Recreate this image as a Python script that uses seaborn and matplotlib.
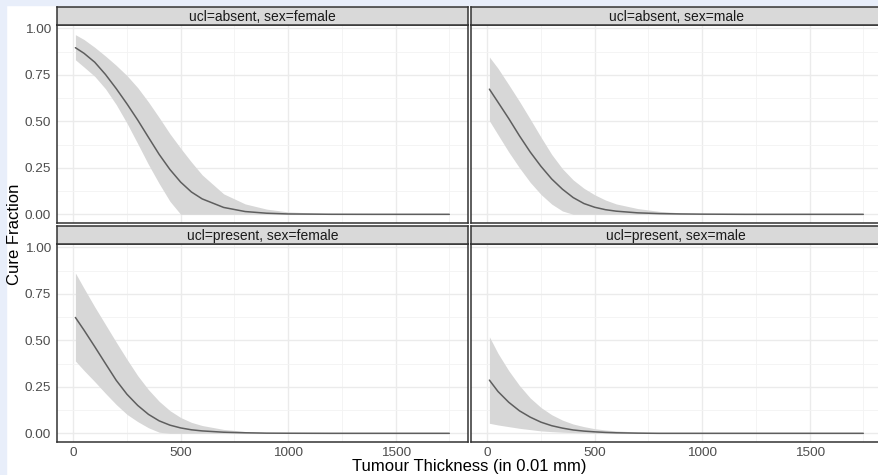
import numpy as np
import pandas as pd
import seaborn as sns
import matplotlib
matplotlib.use("Agg")
import matplotlib.pyplot as plt

# values
thickness = [10, 50, 100, 150, 200, 250, 300, 350, 400, 450, 500, 550, 600,
             700, 800, 900, 1000, 1200, 1400, 1600, 1750]

fit_absent_female = [0.896, 0.866, 0.818, 0.752, 0.676, 0.594, 0.507, 0.414, 0.322, 0.241, 0.173,
                     0.12, 0.083, 0.037, 0.015, 0.006, 0.002, 0.0003, 0, 0, 0]
upper_absent_female = [0.966, 0.94, 0.898, 0.851, 0.801, 0.746, 0.681, 0.604, 0.52, 0.433, 0.355,
                       0.281, 0.212, 0.11, 0.056, 0.028, 0.013, 0.003, 0.001, 0, 0]
lower_absent_female = [0.831, 0.792, 0.742, 0.675, 0.59, 0.49, 0.38, 0.268, 0.165, 0.07, 0,
                       0, 0, 0, 0, 0, 0, 0, 0, 0, 0]

fit_absent_male = [0.673, 0.603, 0.515, 0.422, 0.335, 0.258, 0.19, 0.135, 0.09, 0.058, 0.038,
                   0.025, 0.017, 0.008, 0.004, 0.002, 0.001, 0, 0, 0, 0]
upper_absent_male = [0.846, 0.785, 0.697, 0.607, 0.512, 0.415, 0.322, 0.245, 0.185, 0.14, 0.105,
                     0.077, 0.056, 0.031, 0.016, 0.008, 0.004, 0.001, 0, 0, 0]
lower_absent_male = [0.503, 0.428, 0.335, 0.25, 0.172, 0.107, 0.055, 0.018, 0, 0, 0,
                     0, 0, 0, 0, 0, 0, 0, 0, 0, 0]

fit_present_female = [0.623, 0.555, 0.466, 0.375, 0.285, 0.21, 0.15, 0.102, 0.067, 0.044, 0.029,
                      0.019, 0.013, 0.006, 0.003, 0.001, 0.0005, 0, 0, 0, 0]
upper_present_female = [0.862, 0.78, 0.68, 0.585, 0.49, 0.398, 0.31, 0.235, 0.172, 0.122, 0.085,
                        0.059, 0.042, 0.021, 0.01, 0.004, 0.002, 0, 0, 0, 0]
lower_present_female = [0.389, 0.338, 0.278, 0.215, 0.155, 0.102, 0.063, 0.03, 0.006, 0, 0,
                        0, 0, 0, 0, 0, 0, 0, 0, 0, 0]

fit_present_male = [0.286, 0.225, 0.167, 0.121, 0.087, 0.06, 0.041, 0.028, 0.018, 0.012, 0.008,
                    0.005, 0.003, 0.001, 0, 0, 0, 0, 0, 0, 0]
upper_present_male = [0.519, 0.43, 0.337, 0.257, 0.19, 0.139, 0.1, 0.071, 0.05, 0.036, 0.025,
                      0.018, 0.013, 0.007, 0.003, 0.001, 0, 0, 0, 0, 0]
lower_present_male = [0.054, 0.045, 0.036, 0.027, 0.02, 0.013, 0.009, 0.006, 0.004, 0.002, 0.001,
                      0, 0, 0, 0, 0, 0, 0, 0, 0, 0]

ucl_levels = ["absent", "present"]
sex_levels = ["female", "male"]

series = {
    ("absent", "female"): (fit_absent_female, lower_absent_female, upper_absent_female),
    ("absent", "male"): (fit_absent_male, lower_absent_male, upper_absent_male),
    ("present", "female"): (fit_present_female, lower_present_female, upper_present_female),
    ("present", "male"): (fit_present_male, lower_present_male, upper_present_male),
}

frames = []
for (ucl, sex), (fit, lo, up) in series.items():
    frames.append(pd.DataFrame({"thickness": thickness, "fit": fit, "lower": lo,
                                "upper": up, "ucl": ucl, "sex": sex}))
df = pd.concat(frames, ignore_index=True)

sns.set_theme(style="white")
plt.rcParams["font.family"] = ["Liberation Sans", "DejaVu Sans"]

W, H = 879, 475
g = sns.FacetGrid(df, row="ucl", col="sex", row_order=ucl_levels, col_order=sex_levels,
                  sharex=True, sharey=True, despine=False)
g.figure.set_size_inches(W / 100, H / 100)
g.figure.set_dpi(100)


def draw(data, **kws):
    ax = plt.gca()
    ax.fill_between(data["thickness"], data["lower"], data["upper"],
                    color="#D7D7D7", lw=0, zorder=2)
    sns.lineplot(data=data, x="thickness", y="fit", ax=ax, color="#5E5E5E",
                 lw=1.1, zorder=3, estimator=None)


g.map_dataframe(draw)
g.set_titles("")
g.set_axis_labels("", "")

fig = g.figure
fig.patch.set_facecolor("white")

# light blue slide margin at left and top
fig.patches.append(plt.Rectangle((0, 0), 6 / W, 1, transform=fig.transFigure,
                                 color="#E8EEFA", zorder=-1))
fig.patches.append(plt.Rectangle((0, 1 - 5 / H), 1, 5 / H, transform=fig.transFigure,
                                 color="#E8EEFA", zorder=-1))

col_left = [56.7, 470.7]
panel_w = 411.3
row_top = [25.0, 244.0]
panel_h = 197.7
strip_h = 17.7

for i, ucl in enumerate(ucl_levels):
    for j, sex in enumerate(sex_levels):
        ax = g.axes[i, j]
        x0 = col_left[j] / W
        y0 = 1 - (row_top[i] + panel_h) / H
        ax.set_position([x0, y0, panel_w / W, panel_h / H])
        ax.set_xlim(-77, 1837)
        ax.set_ylim(-0.045, 1.018)
        ax.set_xticks([0, 500, 1000, 1500])
        ax.set_xticks([250, 750, 1250, 1750], minor=True)
        ax.set_yticks([0, 0.25, 0.5, 0.75, 1.0])
        ax.set_yticks([0.125, 0.375, 0.625, 0.875], minor=True)
        ax.set_yticklabels(["0.00", "0.25", "0.50", "0.75", "1.00"])
        ax.grid(which="major", color="#EBEBEB", lw=1.0, zorder=0)
        ax.grid(which="minor", color="#F3F3F3", lw=0.6, zorder=0)
        ax.set_axisbelow(True)
        for sp in ax.spines.values():
            sp.set_color("#333333")
            sp.set_linewidth(1.1)
            sp.set_visible(True)
        ax.tick_params(which="minor", length=0)
        ax.tick_params(which="major", length=2.6, width=0.7, color="#333333",
                       labelsize=9.7, labelcolor="#4D4D4D", pad=1.5)
        if i == 0:
            ax.tick_params(axis="x", length=0, labelbottom=False)
        if j == 1:
            ax.tick_params(axis="y", length=0, labelleft=False)
        ax.set_xlabel("")
        ax.set_ylabel("")

        # facet strip
        sax = fig.add_axes([x0, 1 - (row_top[i]) / H, panel_w / W, strip_h / H])
        sax.set_facecolor("#D9D9D9")
        sax.set_xticks([])
        sax.set_yticks([])
        for sp in sax.spines.values():
            sp.set_color("#333333")
            sp.set_linewidth(1.1)
        sax.text(0.5, 0.45, f"ucl={ucl}, sex={sex}", ha="center", va="center",
                 fontsize=10, color="#1A1A1A", transform=sax.transAxes)

fig.text(469 / W, 1 - 466 / H, "Tumour Thickness (in 0.01 mm)", ha="center", va="center",
         fontsize=12, color="black")
fig.text(15 / W, 1 - 234 / H, "Cure Fraction", ha="center", va="center", rotation=90,
         fontsize=12, color="black")

fig.savefig("out.png", dpi=100, facecolor="white")
